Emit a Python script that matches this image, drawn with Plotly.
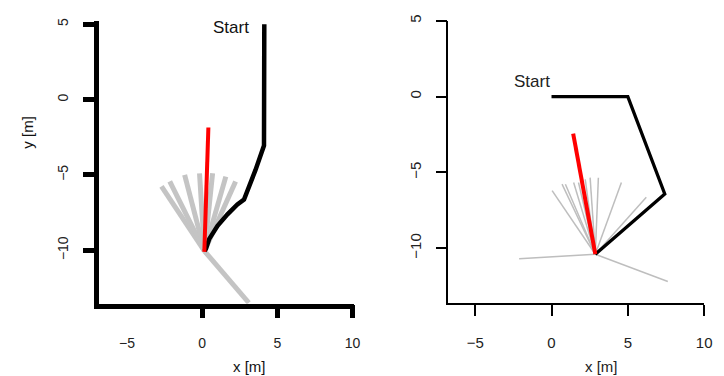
import plotly.graph_objects as go

# ---------------- data ----------------
# Left panel
left_path_x = [4.13, 4.11, 3.54, 2.99, 2.78, 2.34, 1.68, 1.02, 0.47, 0.25, 0.15]
left_path_y = [5.0, -3.05, -4.68, -6.20, -6.63, -6.96, -7.61, -8.37, -9.24, -9.90, -10.05]
left_center = (0.15, -10.05)
left_fan_x = [-2.71, -2.16, -1.17, -0.18, 0.69, 1.57, 2.22, 3.10]
left_fan_y = [-5.76, -5.43, -5.00, -4.89, -4.89, -5.11, -5.43, -13.48]
left_heading_x = [0.14, 0.41]
left_heading_y = [-10.10, -1.85]

# Right panel
right_path_x = [0.0, 5.0, 7.42, 2.87]
right_path_y = [0.0, 0.0, -6.43, -10.40]
right_center = (2.87, -10.40)
right_fan_x = [-2.12, 0.04, 0.69, 0.91, 1.45, 1.77, 2.21, 2.53, 3.07, 4.58, 6.21, 7.62]
right_fan_y = [-10.70, -6.20, -5.78, -5.78, -5.67, -5.67, -5.46, -5.35, -5.35, -5.67, -6.65, -12.20]
right_heading_x = [2.87, 1.42]
right_heading_y = [-10.40, -2.45]

x_ticks = [-5, 0, 5, 10]
y_ticks = [5, 0, -5, -10]
x_ticks_left_marks = [0, 5, 10]
start_label = "Start"
x_title = "x [m]"
y_title = "y [m]"

GRAY = "#bebebe"
FONT = "Liberation Sans, Arial, sans-serif"


def fan_xy(center, xs, ys):
    fx, fy = [], []
    for x, y in zip(xs, ys):
        fx += [center[0], x, None]
        fy += [center[1], y, None]
    return fx, fy


fig = go.Figure()

# ---- left panel ----
lfx, lfy = fan_xy(left_center, left_fan_x, left_fan_y)
fig.add_trace(go.Scatter(x=lfx, y=lfy, mode="lines", line=dict(color="#c4c4c4", width=5),
                         xaxis="x", yaxis="y", hoverinfo="skip"))
fig.add_trace(go.Scatter(x=left_path_x, y=left_path_y, mode="lines",
                         line=dict(color="black", width=4.5), xaxis="x", yaxis="y"))
fig.add_trace(go.Scatter(x=left_heading_x, y=left_heading_y, mode="lines",
                         line=dict(color="#ff0000", width=4), xaxis="x", yaxis="y"))
# host trace for the tick-mark-only overlay axis
fig.add_trace(go.Scatter(x=[None], y=[None], xaxis="x3", yaxis="y", hoverinfo="skip"))

# ---- right panel ----
rfx, rfy = fan_xy(right_center, right_fan_x, right_fan_y)
fig.add_trace(go.Scatter(x=rfx, y=rfy, mode="lines", line=dict(color=GRAY, width=1.5),
                         xaxis="x2", yaxis="y2", hoverinfo="skip"))
fig.add_trace(go.Scatter(x=right_path_x, y=right_path_y, mode="lines",
                         line=dict(color="black", width=3.3), xaxis="x2", yaxis="y2"))
fig.add_trace(go.Scatter(x=right_heading_x, y=right_heading_y, mode="lines",
                         line=dict(color="#ff0000", width=4), xaxis="x2", yaxis="y2"))

W, H = 724, 376


def xd(a, b):
    return [a / W, b / W]


def yd(top, bottom):
    return [1 - bottom / H, 1 - top / H]


tick_font_left = dict(family=FONT, size=14, color="#222")
tick_font_right = dict(family=FONT, size=15, color="#222")

fig.update_layout(
    width=W, height=H,
    margin=dict(l=0, r=0, t=0, b=0),
    paper_bgcolor="white", plot_bgcolor="white",
    showlegend=False,
    font=dict(family=FONT, color="black"),
    xaxis=dict(domain=xd(100.5, 358), range=[-6.84, 10.1], anchor="y",
               showgrid=False, zeroline=False, showline=True, linecolor="black", linewidth=5,
               tickvals=x_ticks, ticks="", tickfont=tick_font_left, ticklabelstandoff=23),
    xaxis3=dict(overlaying="x", range=[-6.84, 10.1], anchor="y", side="bottom",
                showgrid=False, zeroline=False, showline=False,
                tickvals=x_ticks_left_marks, ticks="outside", ticklen=13, tickwidth=5,
                tickcolor="black", showticklabels=False),
    yaxis=dict(domain=yd(15.5, 302.5), range=[-13.54, 5.2], anchor="x",
               showgrid=False, zeroline=False, showline=True, linecolor="black", linewidth=5,
               tickvals=y_ticks, ticks="outside", ticklen=11, tickwidth=5, tickcolor="black",
               tickangle=-90, tickfont=tick_font_left, ticklabelstandoff=10),
    xaxis2=dict(domain=xd(453.5, 712), range=[-6.75, 10.0], anchor="y2",
                showgrid=False, zeroline=False, showline=True, linecolor="black", linewidth=1.5,
                tickvals=x_ticks, ticks="outside", ticklen=11, tickwidth=1.5, tickcolor="black",
                tickfont=tick_font_right, ticklabelstandoff=14),
    yaxis2=dict(domain=yd(15, 302), range=[-13.63, 5.0], anchor="x2",
                showgrid=False, zeroline=False, showline=True, linecolor="black", linewidth=1.5,
                tickvals=y_ticks, ticks="outside", ticklen=11, tickwidth=1.5, tickcolor="black",
                tickangle=-90, tickfont=tick_font_right, ticklabelstandoff=9),
)

annotations = [
    dict(x=left_path_x[0], y=left_path_y[0], xref="x", yref="y", text=start_label,
         showarrow=False, xanchor="right", yanchor="middle", xshift=-13, yshift=-3,
         font=dict(family=FONT, size=17, color="#111")),
    dict(x=right_path_x[0], y=right_path_y[0], xref="x2", yref="y2", text=start_label,
         showarrow=False, xanchor="right", yanchor="middle", xshift=0, yshift=15,
         font=dict(family=FONT, size=17, color="#222")),
    dict(x=252 / W, y=1 - 366 / H, xref="paper", yref="paper", text=x_title, showarrow=False,
         xanchor="center", yanchor="middle", font=dict(family=FONT, size=15, color="#111")),
    dict(x=608 / W, y=1 - 366 / H, xref="paper", yref="paper", text=x_title, showarrow=False,
         xanchor="center", yanchor="middle", font=dict(family=FONT, size=15, color="#222")),
    dict(x=28 / W, y=1 - 128 / H, xref="paper", yref="paper", text=y_title, showarrow=False,
         textangle=-90, xanchor="center", yanchor="middle",
         font=dict(family=FONT, size=15, color="#111")),
]
fig.update_layout(annotations=annotations)

fig.write_html("out.html")
